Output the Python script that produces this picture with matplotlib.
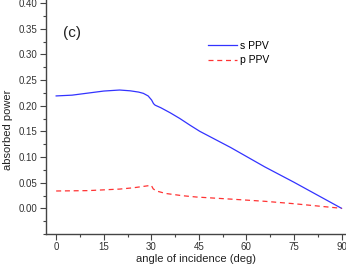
import matplotlib
matplotlib.use("Agg")
import matplotlib.pyplot as plt
from matplotlib.ticker import MultipleLocator

plt.rcParams['font.family'] = ['Liberation Sans', 'DejaVu Sans']

# values
s_angle = [0, 5, 10, 15, 20, 23.3, 26, 27.5, 29, 30.1, 30.7, 31.2, 33, 36, 39, 42.2, 45.3, 55, 65.8, 75, 90]
s_power = [0.219, 0.2205, 0.2245, 0.2285, 0.2305, 0.229, 0.2265, 0.224, 0.219, 0.211, 0.204, 0.201, 0.196, 0.186, 0.175, 0.162, 0.150, 0.1186, 0.0807, 0.0508, 0.0]

p_angle = [0, 10, 20, 24.3, 29, 30.0, 30.6, 31.5, 32.7, 34.5, 36.9, 40, 44.3, 55, 65.8, 75, 90]
p_power = [0.0338, 0.0345, 0.0375, 0.040, 0.044, 0.0448, 0.038, 0.034, 0.032, 0.029, 0.027, 0.0245, 0.022, 0.018, 0.0137, 0.009, 0.0]

fig = plt.figure(figsize=(3.46, 2.65), dpi=100)
ax = fig.add_axes([0.133, 0.117, 0.867, 0.883])

ax.plot(s_angle, s_power, color='#3333ff', lw=0.9, label='s PPV')
ax.plot(p_angle, p_power, color='#ff3333', lw=0.9, ls=(0, (4, 3)), label='p PPV')

ax.set_xlim(-3.2, 91.4)
ax.set_ylim(-0.05, 0.4059)
ax.xaxis.set_major_locator(MultipleLocator(15))
ax.xaxis.set_minor_locator(MultipleLocator(7.5))
ax.yaxis.set_major_locator(MultipleLocator(0.05))
ax.yaxis.set_minor_locator(MultipleLocator(0.025))
ax.set_yticks([0, 0.05, 0.10, 0.15, 0.20, 0.25, 0.30, 0.35, 0.40])
ax.set_yticklabels(['0.00', '0.05', '0.10', '0.15', '0.20', '0.25', '0.30', '0.35', '0.40'])

for side in ['top', 'right']:
    ax.spines[side].set_visible(False)
for side in ['left', 'bottom']:
    ax.spines[side].set_color('#444444')
    ax.spines[side].set_linewidth(1.0)

ax.tick_params(which='major', direction='out', length=4, width=0.8, color='#444444',
               labelsize=7, labelcolor='#333333', pad=2)
ax.tick_params(which='minor', direction='out', length=2.5, width=0.8, color='#444444')

ax.set_xlabel('angle of incidence (deg)', fontsize=8, labelpad=1, color='#222222')
fig.text(8.5 / 346, 1 - 130 / 265, 'absorbed power', rotation=90, ha='center', va='center',
         fontsize=8, color='#222222')

ax.text(2.2, 0.333, '(c)', fontsize=11, color='#222222')

ax.legend(loc='upper left', bbox_to_anchor=(0.527, 0.842), frameon=False, fontsize=7.5,
          handlelength=2.8, handletextpad=0.2, labelspacing=0.4, borderaxespad=0)

fig.savefig('out.png', dpi=100)
